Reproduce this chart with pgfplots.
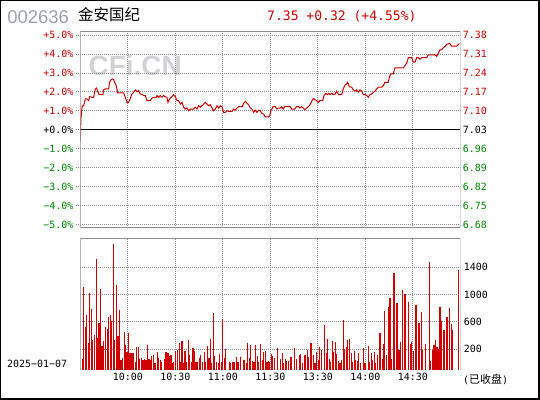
\documentclass[border=0pt]{standalone}
\usepackage{pgfplots}
\pgfplotsset{compat=1.18}
\usepackage{fontspec}
\setmainfont{DejaVu Sans Mono}
\newfontfamily\monof{DejaVu Sans Mono}
\newfontfamily\cjk{Noto Sans CJK SC}
\newfontfamily\sansf{Liberation Sans}
\definecolor{cred}{RGB}{208,0,0}
\definecolor{cgreen}{RGB}{0,136,0}
\definecolor{cgrid}{RGB}{140,140,140}
\definecolor{cframe}{RGB}{140,140,140}
\definecolor{ctitle}{RGB}{155,160,172}
\definecolor{cwm}{RGB}{210,210,214}

\pgfplotstableread{
t p
0 -0.57
0.4 0.60
1.2 1.27
2.1 1.27
3.2 1.63
4.2 1.63
5.3 1.54
5.9 1.75
7.4 1.72
8.4 1.72
9.5 2.16
10.1 2.21
10.5 2.16
11.6 1.89
12.6 1.86
14.3 1.86
14.7 2.11
15.8 2.16
17.9 2.16
18.5 2.51
19.4 2.64
20.4 2.69
21.1 2.64
21.7 2.51
22.7 2.34
23.6 1.95
27.4 1.95
28.4 1.72
29.5 1.45
30.5 1.45
31.6 1.66
32.6 1.89
33.7 1.98
34.7 2.11
35.8 2.02
36.8 2.07
37.9 1.89
38.9 1.89
40.0 1.81
41.1 1.81
42.1 1.54
44.2 1.54
45.3 1.68
46.3 1.72
48.0 1.72
48.4 1.81
49.5 1.72
50.5 1.81
51.6 1.72
52.6 1.81
53.7 1.75
54.7 1.72
55.4 1.45
56.4 1.63
57.9 1.75
58.9 1.86
60.0 1.75
61.1 1.54
62.1 1.54
63.2 1.36
64.2 1.45
65.3 1.19
66.3 1.10
67.4 1.15
68.4 1.01
69.5 1.10
71.6 1.10
72.6 1.19
73.7 1.10
74.7 1.27
75.8 1.19
76.8 1.27
77.9 1.36
78.9 1.45
80.0 1.36
81.1 1.27
82.1 1.33
83.2 1.15
84.2 1.01
85.3 1.10
86.3 1.27
87.4 1.15
88.4 1.27
89.5 1.22
90.5 0.92
91.6 0.92
92.6 1.01
93.7 0.97
95.8 0.97
96.8 1.10
97.9 1.04
98.9 1.15
100.0 1.22
102.1 1.22
103.2 1.40
104.2 1.50
105.3 1.40
106.3 1.33
107.4 1.15
108.4 1.10
109.5 0.92
110.5 1.04
111.6 0.92
112.6 1.04
113.7 1.01
114.7 0.87
115.8 0.83
116.8 0.69
118.9 0.69
119.6 0.74
120.4 1.01
121.7 1.22
123.2 1.22
124.2 1.10
125.3 1.15
126.3 1.15
127.2 1.22
128.2 1.10
129.3 1.24
132.4 1.24
133.5 1.10
135.6 1.10
136.6 1.24
137.7 1.24
138.7 1.15
139.8 1.22
140.9 1.15
141.9 1.06
143.0 1.15
144.0 1.22
145.1 1.33
146.1 1.50
147.2 1.66
148.2 1.59
149.3 1.54
150.3 1.45
151.4 1.54
153.1 1.54
153.9 1.81
155.2 1.93
156.0 1.86
156.9 1.93
157.7 1.86
158.7 1.93
159.8 1.86
160.9 1.89
161.9 2.04
163.0 1.86
165.1 1.86
166.1 2.16
167.2 2.37
168.2 2.42
168.9 2.51
169.9 2.28
171.4 2.25
172.4 2.11
173.5 2.04
174.5 2.11
175.6 1.98
176.6 2.11
177.7 2.07
178.7 1.86
179.8 1.86
180.9 1.81
181.9 1.72
183.0 1.86
184.0 1.89
185.1 1.98
186.1 2.04
187.2 2.16
188.2 2.25
190.3 2.25
191.4 2.34
192.4 2.51
194.5 2.51
195.2 2.78
196.0 2.96
197.7 2.96
198.7 3.27
204.0 3.27
205.1 3.40
206.1 3.52
207.2 3.81
209.3 3.81
210.3 3.58
211.4 3.58
212.4 3.81
213.5 3.81
214.5 3.73
215.6 3.81
218.7 3.81
219.8 3.96
224.0 3.96
225.1 3.88
226.1 4.05
227.2 4.23
228.2 4.23
229.3 4.34
230.3 4.42
231.4 4.51
232.4 4.55
233.5 4.55
234.5 4.42
237.7 4.42
238.7 4.51
239.5 4.55
}\price

\pgfplotstableread{
t h
1.3 153
1.9 1211
3.0 623
3.8 800
4.9 388
5.7 1123
6.8 888
7.8 432
8.7 506
10.1 1623
10.8 461
11.8 682
12.7 1182
13.7 344
14.6 417
15.8 623
16.9 594
17.7 770
18.8 800
19.6 711
20.9 1843
21.5 432
22.8 1241
23.8 491
24.7 873
25.7 138
26.6 167
27.8 550
28.5 359
29.5 256
30.4 535
31.2 241
32.0 241
33.3 241
34.8 109
35.4 329
36.7 329
37.3 153
38.6 167
39.6 138
40.5 153
41.5 138
42.4 359
43.4 153
44.2 138
45.1 197
46.1 211
47.2 94
48.7 256
49.3 167
50.4 133
51.2 109
52.9 153
54.1 256
55.4 241
56.2 197
57.3 211
57.9 89
59.0 109
60.0 275
61.3 285
62.4 388
63.2 109
64.2 417
65.1 94
66.1 270
67.2 109
68.2 432
68.9 211
70.1 109
71.2 314
71.8 270
73.1 109
74.1 109
75.2 167
75.8 211
77.1 109
78.4 256
79.2 109
80.2 344
81.3 167
82.1 447
82.8 94
84.0 829
84.7 197
85.9 109
87.0 94
87.8 226
89.1 109
89.9 741
91.0 167
91.8 300
94.1 109
95.0 94
96.0 109
97.1 109
98.4 182
99.6 109
101.1 182
103.2 138
103.8 138
104.7 94
105.5 388
106.6 167
107.6 359
108.7 123
109.7 109
110.6 359
112.0 197
112.7 109
113.7 373
114.8 138
115.6 256
116.9 270
117.9 109
118.8 123
119.6 109
120.6 226
121.5 197
122.5 167
124.4 314
126.3 153
127.6 241
128.2 94
129.5 153
130.3 123
131.4 123
133.1 182
135.0 314
136.4 153
138.3 211
139.0 226
140.2 94
141.9 211
143.4 285
144.0 182
145.7 388
147.2 211
148.2 94
149.1 256
150.5 138
151.0 329
152.6 285
154.1 653
154.5 153
155.6 241
156.2 447
157.3 153
157.9 109
159.2 417
159.8 256
160.9 403
161.7 226
163.0 123
164.0 94
164.9 138
166.1 726
167.0 300
168.0 329
168.9 432
169.9 447
171.0 241
171.8 109
173.1 270
173.7 138
175.0 123
175.6 241
176.9 94
178.7 314
179.8 94
181.9 344
182.5 109
184.0 241
184.6 138
185.7 256
186.7 94
187.6 211
189.3 535
190.7 153
191.4 373
192.4 858
193.5 211
194.5 917
195.6 1049
196.4 153
198.1 1417
200.0 976
201.3 285
202.5 403
203.4 1167
205.1 1108
207.0 991
208.4 373
209.3 403
210.3 270
212.0 947
213.9 682
215.6 844
216.2 285
218.3 373
220.4 1579
221.1 123
222.3 285
223.4 359
224.2 432
225.3 329
226.1 300
227.2 917
228.0 711
229.7 579
231.6 770
232.9 211
233.3 902
234.3 667
235.0 579
238.7 1461
}\volume

\begin{document}
\begin{tikzpicture}
\useasboundingbox (0,0) rectangle (540bp,-400bp);
\fill[white] (0,0) rectangle (540bp,-400bp);

% watermark
\node[anchor=base west, inner sep=0, text=cwm, font=\sansf\bfseries\fontsize{28}{30}\selectfont] at (88.5bp,-75bp) {CFi.CN};

% price panel
\begin{axis}[
  at={(80.3bp,-227.7bp)}, anchor=south west, scale only axis,
  width=380bp, height=196.7bp,
  xmin=0, xmax=240, ymin=-5.17, ymax=5.22,
  axis line style={draw=none},
  xtick={30,60,90,120,150,180,210}, xticklabels={},
  xtick style={draw=none},
  ytick={-5,-4,...,5},
  yticklabels={\textcolor{cgreen}{−5.0\%},\textcolor{cgreen}{−4.0\%},\textcolor{cgreen}{−3.0\%},\textcolor{cgreen}{−2.0\%},\textcolor{cgreen}{−1.0\%},\textcolor{black}{+0.0\%},\textcolor{cred}{+1.0\%},\textcolor{cred}{+2.0\%},\textcolor{cred}{+3.0\%},\textcolor{cred}{+4.0\%},\textcolor{cred}{+5.0\%}},
  ytick pos=left, tick align=outside, major tick length=4bp,
  ytick style={cgrid, line width=1bp, dash pattern=on 1bp off 1bp},
  grid=major, major grid style={cgrid, line width=1bp, dash pattern=on 1bp off 1bp},
  tick label style={font=\monof\fontsize{10}{12}\selectfont},
  yticklabel style={xshift=0.5bp},
]
\addplot[black, line width=1bp] coordinates {(0,0) (240,0)};
\addplot[cred, line width=1bp] table[x=t, y=p] {\price};
\draw[cframe, line width=1bp] (rel axis cs:0,0) rectangle (rel axis cs:1,1);
\end{axis}

% right price labels
\begin{axis}[
  at={(80.3bp,-227.7bp)}, anchor=south west, scale only axis,
  width=380bp, height=196.7bp,
  xmin=0, xmax=240, ymin=-5.17, ymax=5.22,
  axis x line=none, axis y line=right,
  y axis line style={draw=none},
  ytick={-5,-4,...,5}, major tick length=0pt,
  ytick style={draw=none},
  yticklabels={\textcolor{cgreen}{6.68},\textcolor{cgreen}{6.75},\textcolor{cgreen}{6.82},\textcolor{cgreen}{6.89},\textcolor{cgreen}{6.96},\textcolor{black}{7.03},\textcolor{cred}{7.10},\textcolor{cred}{7.17},\textcolor{cred}{7.24},\textcolor{cred}{7.31},\textcolor{cred}{7.38}},
  tick label style={font=\monof\fontsize{10}{12}\selectfont},
  yticklabel style={xshift=-1bp},
]
\end{axis}

% volume panel
\begin{axis}[
  at={(80.3bp,-369.5bp)}, anchor=south west, scale only axis,
  width=380bp, height=131.2bp,
  xmin=0, xmax=240, ymin=0, ymax=1926,
  axis line style={draw=none},
  xtick={30,60,90,120,150,180,210},
  xticklabels={10:00,10:30,11:00,11:30,13:30,14:00,14:30},
  ytick={300,700,1100,1500}, yticklabels={200,600,1000,1400},
  yticklabel pos=right, major tick length=0pt,
  tick style={draw=none},
  grid=major, major grid style={cgrid, line width=1bp, dash pattern=on 1bp off 1bp},
  tick label style={font=\monof\fontsize{10}{12}\selectfont},
]
\addplot[ycomb, cred, line width=1.1bp, mark=none] table[x=t, y=h] {\volume};
\draw[cframe, line width=1bp] (rel axis cs:0,0) -- (rel axis cs:0,1) -- (rel axis cs:1,1) -- (rel axis cs:1,0);
\end{axis}

% titles
\node[anchor=base west, inner sep=0, text=ctitle, font=\sansf\fontsize{18.5}{20}\selectfont] at (7.2bp,-23bp) {002636};
\node[anchor=base west, inner sep=0, font=\cjk\fontsize{15.5}{16}\selectfont] at (78bp,-20.5bp) {金安国纪};
\node[anchor=base west, inner sep=0, text=cred, font=\monof\fontsize{13.1}{14}\selectfont] at (267bp,-20bp) {7.35 +0.32 (+4.55\%)};
\node[anchor=base west, inner sep=0, font=\monof\fontsize{10}{12}\selectfont] at (7bp,-367bp) {2025−01−07};
\node[anchor=base west, inner sep=0] at (463bp,-383bp) {{\monof\fontsize{10}{12}\selectfont(}{\cjk\fontsize{11}{12}\selectfont 已收盘}{\monof\fontsize{10}{12}\selectfont)}};

% outer border
\draw[black, line width=2bp] (0.5bp,-0.5bp) rectangle (538.5bp,-398.7bp);
\end{tikzpicture}
\end{document}
